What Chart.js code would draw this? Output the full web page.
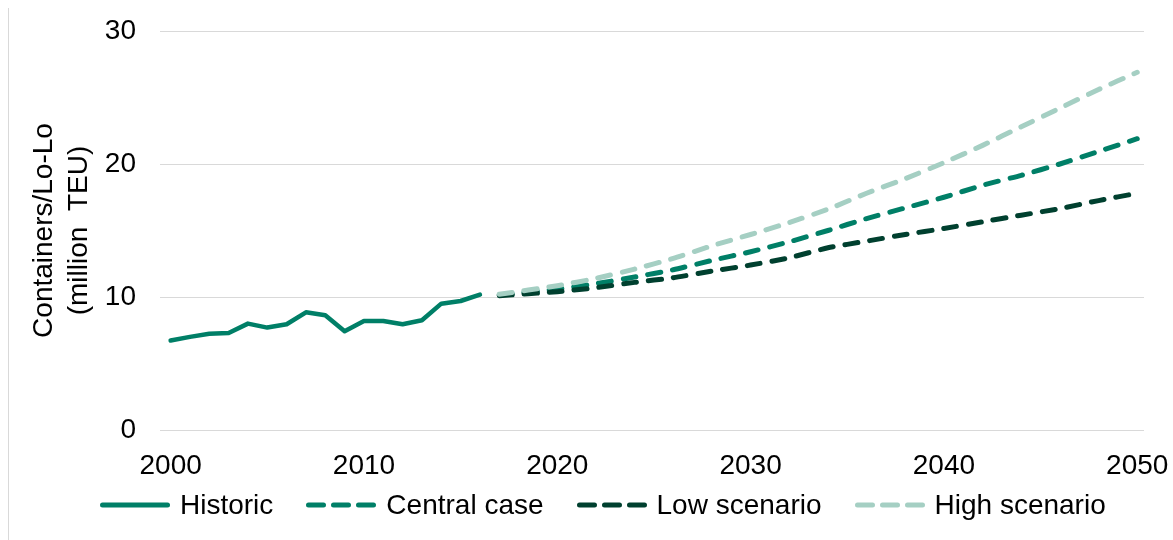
<!DOCTYPE html>
<html>
<head>
<meta charset="utf-8">
<script src="https://cdn.jsdelivr.net/npm/chart.js@4.4.0/dist/chart.umd.min.js"></script>
<style>
  body{margin:0;background:#fff;}
  #wrap{position:relative;width:1173px;height:540px;font-family:"Liberation Sans",Arial,sans-serif;}
  #frame{position:absolute;left:8px;top:8px;bottom:0;width:1px;background:#d9d9d9;}
  #legend{position:absolute;left:99px;top:487px;height:36px;display:flex;align-items:center;font-size:28px;color:#000;white-space:nowrap;}
  .item{display:flex;align-items:center;margin-right:32px;}
  .item svg{margin-right:9px;}
</style>
</head>
<body>
<div id="wrap">
  <canvas id="chart" width="1173" height="540"></canvas>
  <div id="frame"></div>
  <div id="legend"></div>
</div>
<script>
//data
var histYears = [2000,2001,2002,2003,2004,2005,2006,2007,2008,2009,2010,2011,2012,2013,2014,2015,2016];
var histValues = [6.73,7.0,7.23,7.3,8.0,7.7,7.95,8.85,8.63,7.43,8.2,8.2,7.95,8.25,9.5,9.7,10.18];
var projYears = [2017,2020,2022,2024,2026,2028,2030,2032,2034,2036,2038,2040,2042,2044,2046,2048,2050];
var centralValues = [10.15,10.6,11.0,11.5,12.05,12.75,13.4,14.15,15.0,15.9,16.7,17.5,18.4,19.15,20.0,20.95,21.9];
var lowValues = [10.1,10.4,10.7,11.1,11.45,11.95,12.4,12.95,13.7,14.2,14.7,15.15,15.65,16.15,16.65,17.25,17.8];
var highValues = [10.2,10.85,11.4,12.1,12.9,13.85,14.7,15.6,16.6,17.8,18.9,20.1,21.4,22.8,24.2,25.6,26.9];
var xTicks = [2000,2010,2020,2030,2040,2050];
var seriesNames = ['Historic','Central case','Low scenario','High scenario'];
var seriesColors = ['#007f67','#007f67','#00402f','#a5cfc3'];

function toPoints(xs, ys){
    var pts = [];
    for(var i = 0;i<xs.length;i++){
        pts.push({x:xs[i],y:ys[i]});
    }
    return pts;
}

Chart.defaults.font.family = "'Liberation Sans', Arial, sans-serif";
Chart.defaults.color = '#000';

var dashed = {borderWidth:5,borderDash:[13,12],borderCapStyle:'round',pointRadius:0,fill:false,tension:0.2};
var ctx = document.getElementById('chart').getContext('2d');
var chart = new Chart(ctx, {
    type: 'line',
    data: {
        datasets: [
            {label:seriesNames[0],data:toPoints(histYears,histValues),borderColor:seriesColors[0],borderWidth:4.5,
             borderJoinStyle:'round',borderCapStyle:'round',pointRadius:0,fill:false,order:4},
            Object.assign({label:seriesNames[1],data:toPoints(projYears,centralValues),borderColor:seriesColors[1],order:3},dashed),
            Object.assign({label:seriesNames[2],data:toPoints(projYears,lowValues),borderColor:seriesColors[2],order:2},dashed),
            Object.assign({label:seriesNames[3],data:toPoints(projYears,highValues),borderColor:seriesColors[3],order:1},dashed)
        ]
    },
    options: {
        responsive:false,
        animation:false,
        layout:{padding:{top:31,right:29,bottom:45,left:0}},
        plugins:{legend:{display:false},tooltip:{enabled:false}},
        scales:{
            x:{
                type:'linear',min:1999.45,max:2050.35,
                //tick marks are not drawn (grid off), their length just spaces the labels
                grid:{display:false,drawTicks:true,tickLength:19},border:{display:false},
                afterBuildTicks:(s)=>{ s.ticks = xTicks.map(v=>({value:v})); },
                afterFit:(s)=>{ s.height = 65; },
                ticks:{padding:0,font:{size:28},maxRotation:0,autoSkip:false,callback:(v)=>String(v)}
            },
            y:{
                min:0,max:30,
                ticks:{stepSize:10,padding:0,font:{size:28}},
                grid:{color:'#d9d9d9',lineWidth:1,drawTicks:true,tickLength:24,tickColor:'rgba(0,0,0,0)'},
                border:{display:false},
                title:{display:true,text:['Containers/Lo-Lo','(million  TEU)'],font:{size:28,lineHeight:1.25},padding:{top:27,bottom:0}},
                afterFit:(s)=>{ s.width = 160; }
            }
        }
    }
});

//html legend, built from the series names and colours
var legend = document.getElementById('legend');
seriesNames.forEach((name,i)=>{
    var dash = i>0 ? ' stroke-dasharray="15 10"' : '';
    var item = document.createElement('div');
    item.className = 'item';
    item.innerHTML = '<svg width="72" height="10"><line x1="3.5" y1="5" x2="68.5" y2="5" stroke="'+seriesColors[i]+
        '" stroke-width="5" stroke-linecap="round"'+dash+'/></svg><span>'+name+'</span>';
    legend.appendChild(item);
});
</script>
</body>
</html>
